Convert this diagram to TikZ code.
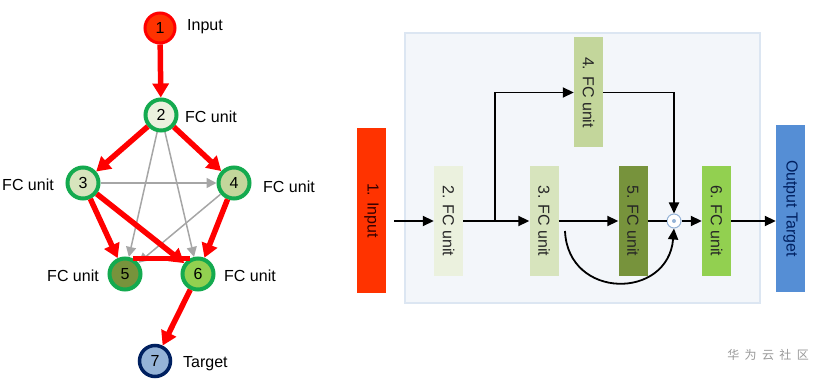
\documentclass[tikz,border=0pt]{standalone}
\usepackage{fontspec}
\setmainfont{Liberation Sans}
\newfontfamily\cjk{Noto Sans CJK SC}
\usetikzlibrary{arrows.meta}
\definecolor{redA}{HTML}{FF0000}
\definecolor{fillA}{HTML}{FF3300}
\definecolor{grn}{HTML}{14AA4F}
\definecolor{cTwo}{HTML}{EBF1DE}
\definecolor{cThree}{HTML}{D7E4BD}
\definecolor{cFour}{HTML}{C3D69B}
\definecolor{cFive}{HTML}{77933C}
\definecolor{cSix}{HTML}{92D050}
\definecolor{cSeven}{HTML}{95B3D7}
\definecolor{navy}{HTML}{002060}
\definecolor{grayE}{HTML}{A6A6A6}
\definecolor{bgfill}{HTML}{F3F6FA}
\definecolor{bgline}{HTML}{DCE6F2}
\definecolor{outblue}{HTML}{558ED5}
\tikzset{
  gnode/.style={circle,minimum size=31pt,inner sep=0pt,line width=4pt,draw=grn,font=\fontsize{16}{18}\selectfont},
  lbl/.style={inner sep=0pt,font=\fontsize{16}{18}\selectfont},
  redarrow/.style={draw=redA,line width=5.5pt,-{Triangle[length=14pt,width=16pt]}},
  redline/.style={draw=redA,line width=5.5pt},
  grayarrow/.style={draw=grayE,line width=1.5pt,-{Triangle[length=10pt,width=10pt]}},
  unitbox/.style={minimum width=29pt,minimum height=110pt,inner sep=0pt,font=\fontsize{16}{18}\selectfont,text=black!85},
  blk/.style={draw=black,line width=1.8pt,-{Triangle[length=11pt,width=10pt]}},
  blkline/.style={draw=black,line width=1.8pt},
}
\begin{document}
\begin{tikzpicture}[x=1pt,y=-1pt]
\useasboundingbox (0,0) rectangle (822,379);
% ---------- left graph ----------
\node[gnode,draw=redA,line width=3pt,fill=fillA,minimum size=30pt] (n1) at (160,28) {1};
\node[gnode,fill=cTwo] (n2) at (161,115) {2};
\node[gnode,fill=cThree] (n3) at (83,183) {3};
\node[gnode,fill=cFour] (n4) at (234,183) {4};
\node[gnode,fill=cFive] (n5) at (125,274) {5};
\node[gnode,fill=cSix] (n6) at (198,274) {6};
\node[gnode,draw=navy,line width=3.5pt,fill=cSeven] (n7) at (155,361) {7};

\node[lbl,anchor=west] (l1) at (187,27) {Input};
\node[lbl,anchor=west] (l2) at (185,117) {FC unit};
\node[lbl,anchor=east] (l3) at (54,185) {FC unit};
\node[lbl,anchor=west] (l4) at (263,187) {FC unit};
\node[lbl,anchor=east] (l5) at (99,276) {FC unit};
\node[lbl,anchor=west] (l6) at (224,276) {FC unit};
\node[lbl,anchor=west] (l7) at (183,364) {Target};

% gray edges
\draw[grayarrow] (n2) -- (n5);
\draw[grayarrow] (n2) -- (n6);
\draw[grayarrow] (n3) -- (n4);
\draw[grayarrow] (n4) -- (n5);
% red edges
\draw[redarrow] (n1) -- (n2);
\draw[redarrow] (n2) -- (n3);
\draw[redarrow] (n2) -- (n4);
\draw[redarrow] (n3) -- (n5);
\draw[redarrow] (n3) -- (n6);
\draw[redarrow] (n4) -- (n6);
\draw[redline] (n5.62) -- (n6.118);
\draw[redarrow] (n6) -- (n7);

% ---------- right diagram ----------
\node[draw=bgline,line width=2pt,fill=bgfill,minimum width=355pt,minimum height=270pt,inner sep=0pt] (bg) at (582.5,168) {};
\node[unitbox,fill=fillA,minimum height=165pt,text=black!80!red] (b1) at (371.5,210.5) {\rotatebox{-90}{1. Input}};
\node[unitbox,fill=cTwo] (b2) at (448.5,221) {\rotatebox{-90}{2. FC unit}};
\node[unitbox,fill=cThree] (b3) at (544,221) {\rotatebox{-90}{3. FC unit}};
\node[unitbox,fill=cFour] (b4) at (588.5,92.5) {\rotatebox{-90}{4. FC unit}};
\node[unitbox,fill=cFive] (b5) at (633,221) {\rotatebox{-90}{5. FC unit}};
\node[unitbox,fill=cSix] (b6) at (716.5,221) {\rotatebox{-90}{6. FC unit}};
\node[unitbox,fill=outblue,minimum height=167pt,text=navy] (bo) at (790.5,208.5) {\rotatebox{-90}{Output Target}};

\node[circle,draw=cSeven,line width=1pt,fill=white,minimum size=14pt,inner sep=0pt] (pl) at (674,221) {};
\node[circle,fill=cSeven,minimum size=4pt,inner sep=0pt] (pd) at (pl) {};

\coordinate (inS) at (394,221);
\coordinate (br) at (495,221);
\coordinate (cs) at (565,231);

\draw[blk] (inS) -- (b2.west|-inS);
\draw[blk] (b2.east|-inS) -- (b3.west|-inS);
\draw[blk] (br) -- (br|-b4.west) -- (b4.west);
\draw[blk] (b4.east) -- (b4.east-|pl) -- (pl.north);
\draw[blk] (b3.east|-inS) -- (b5.west|-inS);
\draw[blkline] (b5.east|-inS) -- (pl.west);
\draw[blk] (pl.east) -- (b6.west|-pl);
\draw[blk] (cs) .. controls (568,300) and (668,300) .. (pl.south);
\draw[blk] (b6.east|-pl) -- (bo.west|-pl);

% watermark
\node[inner sep=0pt,text=black!40,font=\cjk\fontsize{12}{13}\selectfont] (wm) at (768,355) {华\ \ 为\ \ 云\ \ 社\ \ 区};
\end{tikzpicture}
\end{document}
